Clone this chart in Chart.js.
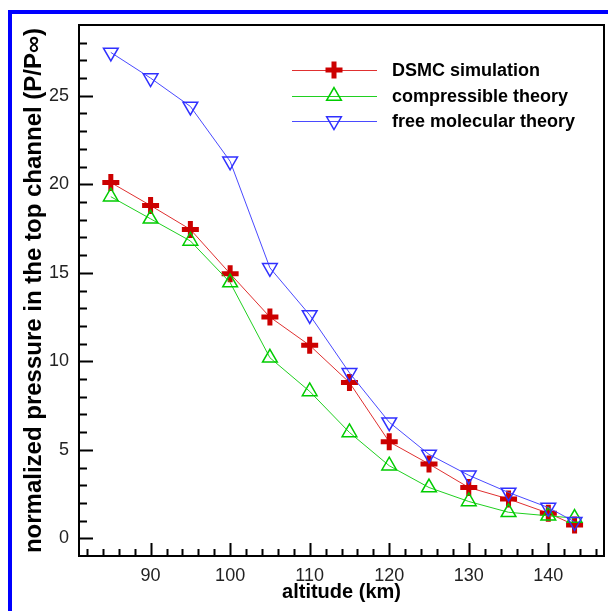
<!DOCTYPE html>
<html>
<head>
<meta charset="utf-8">
<script src="https://cdn.jsdelivr.net/npm/chart.js@4.4.1/dist/chart.umd.min.js"></script>
<style>
  html, body { margin: 0; padding: 0; background: #fff; }
  canvas { display: block; }
</style>
</head>
<body>
<canvas id="c" width="608" height="611"></canvas>
<script>
// ---- data ----
const altitude = [85, 90, 95, 100, 105, 110, 115, 120, 125, 130, 135, 140, 143.3];
const dsmc     = [20.1, 18.8, 17.45, 14.95, 12.5, 10.9, 8.8, 5.45, 4.2, 2.87, 2.22, 1.42, 0.75];
const compress = [19.3, 18.05, 16.8, 14.45, 10.2, 8.3, 5.98, 4.1, 2.87, 2.08, 1.47, 1.27, 1.14];
const freeMol  = [27.45, 26.0, 24.4, 21.3, 15.28, 12.62, 9.35, 6.56, 4.74, 3.56, 2.59, 1.74, 0.93];
const seriesNames = ['DSMC simulation', 'compressible theory', 'free molecular theory'];
const xTicks = [90, 100, 110, 120, 130, 140];
const yTicks = [0, 5, 10, 15, 20, 25];
const xMinorStep = 2, yMinorStep = 1;
const xTitle = 'altitude (km)';
const yTitle = 'normalized pressure in the top channel (P/P\u221E)';

const pts = ys => altitude.map((x, i) => ({ x: x, y: ys[i] }));

const tickFont = { family: "'Liberation Sans Narrow', 'Liberation Sans', Arial, sans-serif", size: 18 };
const xTitleFont = { family: "'Liberation Sans', Arial, sans-serif", size: 20, weight: 'bold' };
const yTitleFont = { family: "'Liberation Sans', Arial, sans-serif", size: 24, weight: 'bold' };

const bgAndBorder = {
  id: 'bgAndBorder',
  beforeDraw(chart) {
    const ctx = chart.ctx;
    ctx.save();
    ctx.fillStyle = '#ffffff';
    ctx.fillRect(0, 0, chart.width, chart.height);
    ctx.fillStyle = '#0000ff';
    ctx.fillRect(8, 10, chart.width - 8, 4);
    ctx.fillRect(8, 10, 4, chart.height - 10);
    ctx.restore();
  }
};

const frameTicks = {
  id: 'frameTicks',
  afterDatasetsDraw(chart) {
    const ctx = chart.ctx;
    const a = chart.chartArea;
    const xs = chart.scales.x, ys = chart.scales.y;
    ctx.save();
    ctx.strokeStyle = '#000';
    ctx.lineWidth = 2;
    ctx.strokeRect(a.left, a.top, a.right - a.left, a.bottom - a.top);
    ctx.beginPath();
    for (let v = Math.ceil(xs.min / xMinorStep) * xMinorStep; v < xs.max; v += xMinorStep) {
      const px = Math.round(xs.getPixelForValue(v)) + 0.5;
      const major = xTicks.includes(v);
      ctx.moveTo(px, a.bottom);
      ctx.lineTo(px, a.bottom - (major ? 13 : 7));
    }
    for (let v = Math.ceil(ys.min / yMinorStep) * yMinorStep; v < ys.max; v += yMinorStep) {
      if (v <= ys.min) continue;
      const py = Math.round(ys.getPixelForValue(v)) + 0.5;
      const major = yTicks.includes(v);
      ctx.moveTo(a.left, py);
      ctx.lineTo(a.left + (major ? 14 : 8), py);
    }
    ctx.stroke();
    ctx.restore();
  }
};

const insideLegend = {
  id: 'insideLegend',
  afterDraw(chart) {
    const ctx = chart.ctx;
    const rows = [70, 96, 121];
    const x0 = 292, x1 = 377, xm = 334, xt = 392;
    ctx.save();
    chart.data.datasets.forEach((ds, i) => {
      const y = rows[i];
      ctx.strokeStyle = ds.borderColor;
      ctx.lineWidth = ds.borderWidth;
      ctx.beginPath();
      ctx.moveTo(x0, y + 0.5);
      ctx.lineTo(x1, y + 0.5);
      ctx.stroke();
      ctx.strokeStyle = ds.pointBorderColor;
      ctx.fillStyle = 'rgba(0,0,0,0)';
      ctx.lineWidth = ds.pointBorderWidth;
      Chart.helpers.drawPoint(ctx, {
        pointStyle: ds.pointStyle,
        radius: ds.pointRadius,
        rotation: ds.pointRotation || 0,
        borderWidth: ds.pointBorderWidth
      }, xm, y);
      ctx.fillStyle = '#000';
      ctx.font = "bold 18px 'Liberation Sans', Arial, sans-serif";
      ctx.textAlign = 'left';
      ctx.textBaseline = 'middle';
      ctx.fillText(ds.label, xt, y + 1);
    });
    ctx.restore();
  }
};

new Chart(document.getElementById('c'), {
  type: 'line',
  data: {
    datasets: [
      {
        label: seriesNames[0], data: pts(dsmc),
        borderColor: '#e03030', borderWidth: 1,
        pointStyle: 'cross', pointRadius: 8.5, pointBorderWidth: 5,
        pointBorderColor: '#cc0000', pointBackgroundColor: 'rgba(0,0,0,0)',
        order: 2
      },
      {
        label: seriesNames[1], data: pts(compress),
        borderColor: '#20d020', borderWidth: 1,
        pointStyle: 'triangle', pointRadius: 8.5, pointBorderWidth: 1.5,
        pointBorderColor: '#00cc00', pointBackgroundColor: 'rgba(0,0,0,0)',
        order: 1
      },
      {
        label: seriesNames[2], data: pts(freeMol),
        borderColor: '#4a4aff', borderWidth: 1,
        pointStyle: 'triangle', pointRotation: 180, pointRadius: 8.5, pointBorderWidth: 1.5,
        pointBorderColor: '#3030ff', pointBackgroundColor: 'rgba(0,0,0,0)',
        order: 0
      }
    ]
  },
  options: {
    responsive: false,
    animation: false,
    devicePixelRatio: 1,
    layout: { autoPadding: false, padding: { left: 0, top: 25, right: 4, bottom: 0 } },
    elements: { line: { tension: 0 }, point: { hoverRadius: 8.5 } },
    plugins: { legend: { display: false }, tooltip: { enabled: false } },
    scales: {
      x: {
        type: 'linear', min: 81, max: 147,
        grid: { display: false, drawTicks: false },
        border: { display: false },
        afterBuildTicks: s => { s.ticks = xTicks.map(v => ({ value: v })); },
        afterFit: s => { s.height = 55; s.paddingLeft = 0; s.paddingRight = 0; },
        ticks: { font: tickFont, color: '#222', padding: 9, maxRotation: 0, autoSkip: false },
        title: { display: true, text: xTitle, font: xTitleFont, color: '#000', padding: { top: 0, bottom: 7 } }
      },
      y: {
        type: 'linear', min: -1, max: 29,
        grid: { display: false, drawTicks: false },
        border: { display: false },
        afterBuildTicks: s => { s.ticks = yTicks.map(v => ({ value: v })); },
        afterFit: s => { s.width = 79; s.paddingTop = 0; s.paddingBottom = 0; },
        ticks: { font: tickFont, color: '#222', padding: 10, autoSkip: false },
        title: { display: true, text: yTitle, font: yTitleFont, color: '#000', padding: { top: 20, bottom: 0 } }
      }
    }
  },
  plugins: [bgAndBorder, frameTicks, insideLegend]
});
</script>
</body>
</html>
